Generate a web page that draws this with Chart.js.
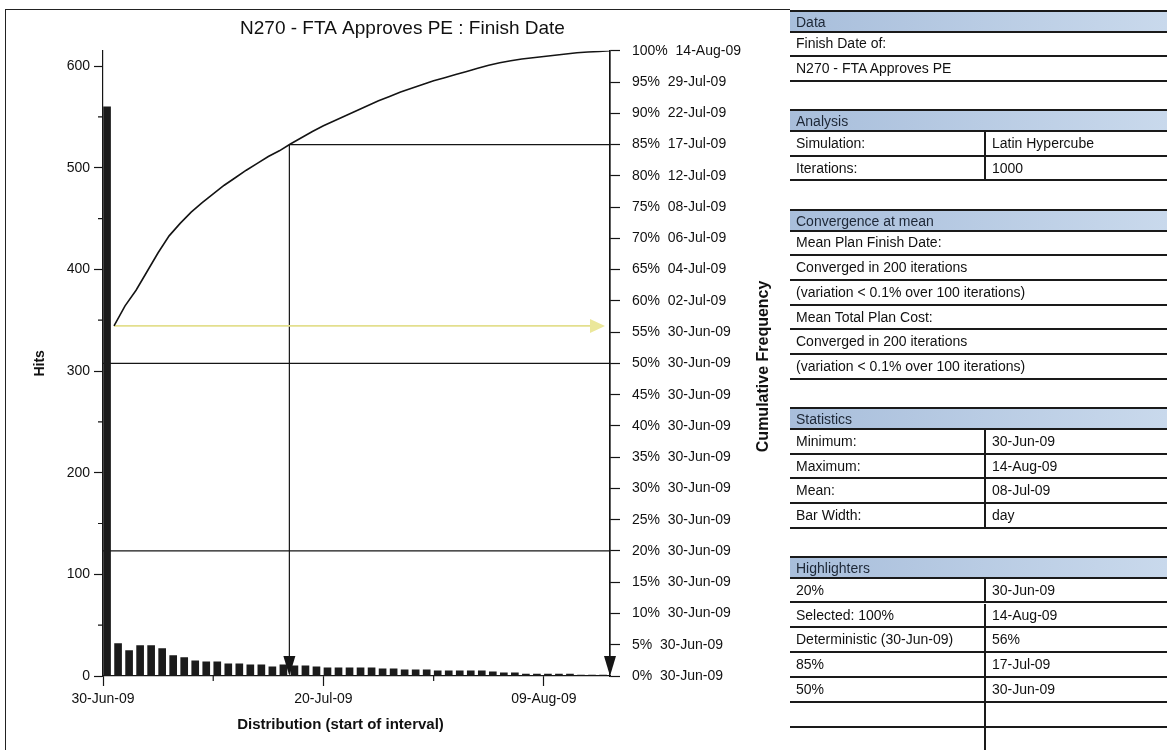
<!DOCTYPE html>
<html>
<head>
<meta charset="utf-8">
<title>N270 - FTA Approves PE : Finish Date</title>
<script src="https://cdn.jsdelivr.net/npm/chart.js@4.4.1/dist/chart.umd.min.js"></script>
<style>
  html, body { margin: 0; padding: 0; background: #fff; }
  #page { position: relative; width: 1167px; height: 750px; overflow: hidden; font-family: Arial, "Liberation Sans", sans-serif; }
  #chart { position: absolute; left: 0; top: 0; }
  .frame { position: absolute; background: #222; }
  #info { position: absolute; left: 790px; top: 0; width: 377px; height: 750px; z-index: 2; }
  .cell { position: absolute; box-sizing: border-box; white-space: nowrap; font-size: 14px; color: #111; padding-left: 6px; }
  .head { background: linear-gradient(to right, #a8bedb, #c9d9ec); border-top: 2px solid #1a1a1a; border-bottom: 2px solid #1a1a1a; color: #1d2736; }
  .row { border-bottom: 2px solid #1a1a1a; }
  .split { border-left: 2px solid #1a1a1a; }
</style>
</head>
<body>
<div id="page">
  <div class="frame" style="left:5px;top:9px;width:1px;height:741px"></div>
  <div class="frame" style="left:5px;top:9px;width:785px;height:1px"></div>
  <canvas id="chart" width="800" height="750"></canvas>
  <div id="info"></div>
</div>
<script>
// hits per one-day bin, starting 30-Jun-09 (day 0) through 14-Aug-09 (day 45)
const hits = [560, 32, 25, 30, 30, 27, 20, 18, 15, 14,
              14, 12, 12, 11, 11, 9, 11, 10, 10, 9,
              8, 8, 8, 8, 8, 7, 7, 6, 6, 6,
              5, 5, 5, 5, 5, 4, 3, 3, 2, 2,
              2, 2, 2, 1, 1, 1];

// cumulative frequency (%) at the end of each bin
const cumPct = [56.0, 59.2, 61.7, 64.7, 67.7, 70.4, 72.4, 74.2, 75.7, 77.1,
                78.5, 79.7, 80.9, 82.0, 83.1, 84.0, 85.1, 86.1, 87.1, 88.0,
                88.8, 89.6, 90.4, 91.2, 92.0, 92.7, 93.4, 94.0, 94.6, 95.2,
                95.7, 96.2, 96.7, 97.2, 97.7, 98.1, 98.4, 98.7, 98.9, 99.1,
                99.3, 99.5, 99.7, 99.8, 99.9, 100.0];

const xTickDays = [0, 20, 40];
const xTickLabels = ['30-Jun-09', '20-Jul-09', '09-Aug-09'];
const minorDayTicks = [10, 30];
const minorHitTicks = [50, 150, 250, 350, 450, 550];

// percentile dates for the right axis, 0% .. 100% in steps of 5
const pctDates = ['30-Jun-09', '30-Jun-09', '30-Jun-09', '30-Jun-09', '30-Jun-09', '30-Jun-09',
                  '30-Jun-09', '30-Jun-09', '30-Jun-09', '30-Jun-09', '30-Jun-09', '30-Jun-09',
                  '02-Jul-09', '04-Jul-09', '06-Jul-09', '08-Jul-09', '12-Jul-09', '17-Jul-09',
                  '22-Jul-09', '29-Jul-09', '14-Aug-09'];

const highlightPct = [20, 100, 85, 50];
const deterministicPct = 56;

const tableRows = [
  ['head', 'Data'],
  ['row', 'Finish Date of:'],
  ['row', 'N270 - FTA Approves PE'],
  ['gap'],
  ['head', 'Analysis'],
  ['pair', 'Simulation:', 'Latin Hypercube'],
  ['pair', 'Iterations:', '1000'],
  ['gap'],
  ['head', 'Convergence at mean'],
  ['row', 'Mean Plan Finish Date:'],
  ['row', 'Converged in 200 iterations'],
  ['row', '(variation < 0.1% over 100 iterations)'],
  ['row', 'Mean Total Plan Cost:'],
  ['row', 'Converged in 200 iterations'],
  ['row', '(variation < 0.1% over 100 iterations)'],
  ['gap'],
  ['head', 'Statistics'],
  ['pair', 'Minimum:', '30-Jun-09'],
  ['pair', 'Maximum:', '14-Aug-09'],
  ['pair', 'Mean:', '08-Jul-09'],
  ['pair', 'Bar Width:', 'day'],
  ['gap'],
  ['head', 'Highlighters'],
  ['pair', '20%', '30-Jun-09'],
  ['pair', 'Selected: 100%', '14-Aug-09'],
  ['pair', 'Deterministic (30-Jun-09)', '56%'],
  ['pair', '85%', '17-Jul-09'],
  ['pair', '50%', '30-Jun-09'],
  ['pair', '', ''],
  ['pair', '', '']
];

const binDays = hits.map((_, i) => i);
const cumDays = binDays.map(d => d + 1);   // curve point sits at the end of its bin

// day at which the cumulative curve reaches a given percent
function crossingDay(pct) {
  if (pct <= cumPct[0]) return 0;
  for (let i = 1; i < cumPct.length; i++) {
    if (cumPct[i] >= pct) {
      const t = (pct - cumPct[i - 1]) / (cumPct[i] - cumPct[i - 1]);
      return cumDays[i - 1] + t * (cumDays[i] - cumDays[i - 1]);
    }
  }
  return cumDays[cumDays.length - 1];
}

function triangle(ctx, pts) {
  ctx.beginPath();
  ctx.moveTo(pts[0][0], pts[0][1]);
  ctx.lineTo(pts[1][0], pts[1][1]);
  ctx.lineTo(pts[2][0], pts[2][1]);
  ctx.closePath();
  ctx.fill();
}

const FONT = 'Arial, "Liberation Sans", sans-serif';

const highlighters = {
  id: 'highlighters',
  beforeDatasetsDraw(chart) {
    const { ctx, scales: { x, yPct } } = chart;
    const xEnd = x.getPixelForValue(x.max);
    const yZero = yPct.getPixelForValue(0);
    ctx.save();
    ctx.strokeStyle = '#151515';
    ctx.fillStyle = '#151515';
    ctx.lineWidth = 1.2;
    highlightPct.forEach(p => {
      const day = crossingDay(p);
      const px = x.getPixelForValue(day);
      const py = yPct.getPixelForValue(p);
      ctx.beginPath();
      ctx.moveTo(px, py);
      ctx.lineTo(xEnd, py);
      ctx.stroke();
      if (day === 0) return;   // drop line would sit on the first bar
      ctx.beginPath();
      ctx.moveTo(px, py);
      ctx.lineTo(px, yZero - 18);
      ctx.stroke();
      triangle(ctx, [[px - 6, yZero - 20], [px + 6, yZero - 20], [px, yZero]]);
    });

    // deterministic result
    const dy = yPct.getPixelForValue(deterministicPct);
    const dx = x.getPixelForValue(cumDays[0]);
    ctx.strokeStyle = '#e3df8e';
    ctx.fillStyle = '#ebe79a';
    ctx.lineWidth = 1.6;
    ctx.beginPath();
    ctx.moveTo(dx, dy);
    ctx.lineTo(xEnd - 18, dy);
    ctx.stroke();
    triangle(ctx, [[xEnd - 20, dy - 7], [xEnd - 20, dy + 7], [xEnd - 5, dy]]);
    ctx.restore();
  },
  afterDraw(chart) {
    const { ctx, chartArea, scales: { x, y, yPct } } = chart;
    ctx.save();
    ctx.strokeStyle = '#151515';
    ctx.lineWidth = 1.2;
    ctx.beginPath();
    minorHitTicks.forEach(v => {
      const py = y.getPixelForValue(v);
      ctx.moveTo(x.left - 5, py);
      ctx.lineTo(x.left, py);
    });
    minorDayTicks.forEach(d => {
      const px = x.getPixelForValue(d);
      ctx.moveTo(px, y.bottom);
      ctx.lineTo(px, y.bottom + 5);
    });
    ctx.stroke();

    // axis titles: x title sits a little left of centre, right title reads bottom-to-top
    ctx.fillStyle = '#111';
    ctx.textAlign = 'center';
    ctx.textBaseline = 'middle';
    ctx.font = 'bold 15px ' + FONT;
    ctx.fillText('Distribution (start of interval)', (chartArea.left + chartArea.right) / 2 - 16, x.bottom - 12);
    ctx.translate(yPct.right - 13, (chartArea.top + chartArea.bottom) / 2 + 3);
    ctx.rotate(-Math.PI / 2);
    ctx.font = 'bold 16px ' + FONT;
    ctx.fillText('Cumulative Frequency', 0, 0);
    ctx.restore();
  }
};

Chart.defaults.font.family = FONT;
Chart.defaults.color = '#111';

const axisGrid = (len) => ({
  display: true, drawOnChartArea: false, drawTicks: true, offset: false,
  tickLength: len, tickColor: '#151515', tickWidth: 1.2
});
const axisBorder = { display: true, color: '#151515', width: 1.2 };

new Chart(document.getElementById('chart').getContext('2d'), {
  type: 'bar',
  data: {
    datasets: [{
      type: 'line',
      label: 'Cumulative Frequency',
      data: cumPct.map((p, i) => ({ x: cumDays[i], y: p })),
      xAxisID: 'x',
      yAxisID: 'yPct',
      borderColor: '#141414',
      borderWidth: 1.6,
      pointRadius: 0,
      tension: 0,
      fill: false
    }, {
      label: 'Hits',
      data: hits.map((h, i) => ({ x: binDays[i], y: h })),
      xAxisID: 'xb',
      yAxisID: 'y',
      backgroundColor: '#1b1b1b',
      barThickness: 7
    }]
  },
  options: {
    responsive: false,
    devicePixelRatio: 1,
    animation: false,
    layout: { padding: { left: 28, right: 23, top: 0, bottom: 13 } },
    plugins: {
      legend: { display: false },
      tooltip: { enabled: false },
      title: {
        display: true,
        text: 'N270 - FTA Approves PE : Finish Date',
        color: '#111',
        font: { size: 19, weight: 'normal' },
        padding: { top: 17, bottom: 11 }
      }
    },
    scales: {
      x: {
        type: 'linear',
        position: 'bottom',
        min: 0,
        max: 46,
        offset: false,
        grid: axisGrid(10),
        border: axisBorder,
        afterBuildTicks: s => { s.ticks = xTickDays.map(v => ({ value: v })); },
        afterFit: s => { s.height = 61; },
        ticks: {
          autoSkip: false,
          maxRotation: 0,
          padding: 5,
          font: { size: 14 },
          callback: v => xTickLabels[xTickDays.indexOf(v)]
        }
      },
      // bars start at the beginning of their day
      xb: {
        type: 'linear',
        display: false,
        min: -0.05,
        max: 45.95,
        offset: false,
        grid: { offset: false }
      },
      y: {
        type: 'linear',
        position: 'left',
        min: 0,
        max: 615,
        grid: axisGrid(9),
        border: axisBorder,
        afterFit: s => { s.width = 75; },
        ticks: { stepSize: 100, includeBounds: false, padding: 4, font: { size: 14 } },
        title: { display: true, text: 'Hits', font: { size: 14, weight: 'bold' }, padding: 4 }
      },
      yPct: {
        type: 'linear',
        position: 'right',
        min: 0,
        max: 100,
        grid: axisGrid(10),
        border: axisBorder,
        afterFit: s => { s.width = 167; },
        ticks: {
          stepSize: 5,
          autoSkip: false,
          padding: 12,
          font: { size: 14 },
          callback: v => v + '%  ' + pctDates[Math.round(v / 5)]
        }
      }
    }
  },
  plugins: [highlighters]
});

// summary table beside the chart
const ROW_PITCH = 24.83;
const FIRST_ROW = 20;
const SPLIT_AT = 194;
const info = document.getElementById('info');

function addCell(cls, text, left, top, width, height) {
  const el = document.createElement('div');
  el.className = 'cell ' + cls;
  el.textContent = text;
  el.style.left = left + 'px';
  el.style.top = top + 'px';
  el.style.width = width + 'px';
  el.style.height = height + 'px';
  el.style.lineHeight = (height - 2) + 'px';
  info.appendChild(el);
}

tableRows.forEach((r, i) => {
  const mid = FIRST_ROW + i * ROW_PITCH;
  if (r[0] === 'head') {
    addCell('head', r[1], 0, mid - 10, 377, 23);
  } else if (r[0] === 'row') {
    addCell('row', r[1], 0, mid - 12.4, 377, 24.8);
  } else if (r[0] === 'pair') {
    addCell('row', r[1], 0, mid - 12.4, SPLIT_AT, 24.8);
    addCell('row split', r[2], SPLIT_AT, mid - 12.4, 377 - SPLIT_AT, 24.8);
  }
});
</script>
</body>
</html>
